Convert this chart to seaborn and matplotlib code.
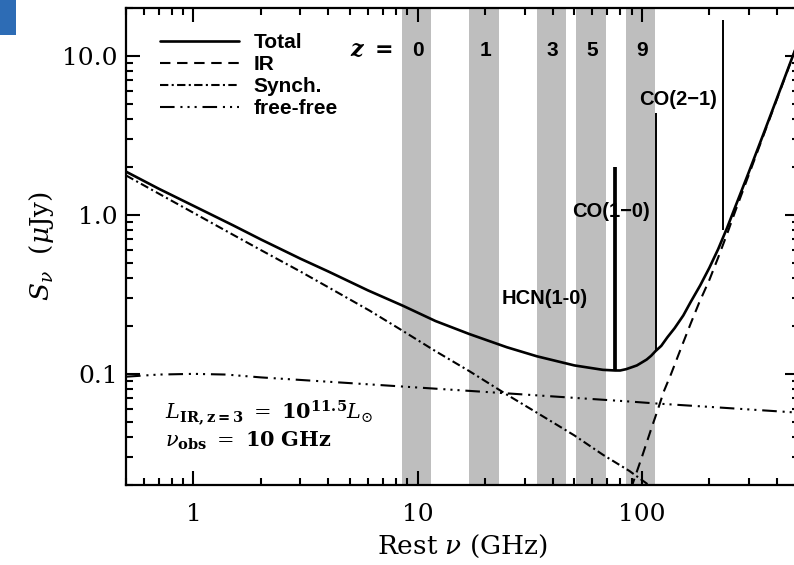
import matplotlib
matplotlib.use("Agg")
import matplotlib.pyplot as plt
import matplotlib.transforms as mtransforms
from matplotlib.patches import Rectangle
from matplotlib.ticker import LogLocator, NullFormatter, FixedLocator, FixedFormatter
from matplotlib.font_manager import FontProperties
import seaborn as sns

# ---------------- data ----------------
total_nu = [0.5, 0.7, 1, 1.5, 2, 3, 4, 6, 8.6, 12, 17, 25, 34, 50, 67, 76, 80, 85, 90,
            95, 100, 105, 110, 115, 122, 130, 140, 153, 165, 182, 200, 219, 240, 260,
            300, 350, 400, 465, 500]
total_S = [1.87, 1.46, 1.14, 0.86, 0.70, 0.53, 0.44, 0.335, 0.268, 0.215, 0.178, 0.147,
           0.129, 0.113, 0.106, 0.105, 0.105, 0.107, 0.110, 0.113, 0.118, 0.123, 0.130,
           0.139, 0.150, 0.170, 0.194, 0.233, 0.283, 0.36, 0.465, 0.61, 0.83, 1.11,
           1.86, 3.28, 5.4, 9.5, 12.5]

ir_nu = [85, 90, 100, 110, 118, 125, 135, 150, 165, 180, 200, 219, 240, 260, 300, 350,
         400, 465, 500]
ir_S = [0.015, 0.0195, 0.030, 0.045, 0.060, 0.077, 0.100, 0.147, 0.207, 0.28, 0.39,
        0.54, 0.76, 1.04, 1.79, 3.21, 5.33, 9.44, 12.4]

synch_nu = [0.5, 0.7, 1, 1.5, 2, 3, 4, 6.1, 8.6, 12, 17, 25, 34, 50, 67, 88, 110]
synch_S = [1.77, 1.36, 1.03, 0.75, 0.60, 0.44, 0.35, 0.25, 0.186, 0.139, 0.104, 0.074,
           0.057, 0.041, 0.031, 0.0245, 0.0195]

ff_nu = [0.5, 0.7, 1, 1.4, 2, 6, 20, 88, 118, 200, 500]
ff_S = [0.096, 0.099, 0.100, 0.099, 0.095, 0.086, 0.077, 0.067, 0.065, 0.062, 0.057]

series_labels = ["Total", "IR", "Synch.", "free-free"]

# observing band 8.5-11.5 GHz, shown at rest frame for these redshifts
z_vals = [0, 1, 3, 5, 9]
band_lo, band_hi, band_mid = 8.5, 11.5, 10.0

# molecular lines
line_names = ["HCN(1-0)", "CO(1\u22120)", "CO(2\u22121)"]
line_nu = [75.8, 115.3, 230.5]
line_bottom = [0.106, 0.139, 0.80]
line_top = [2.0, 4.35, 16.7]
line_lw = [2.7, 1.4, 1.4]
label_pos = [(36.9, 0.30), (72.7, 1.05), (144.8, 5.3)]

x_ticks = [1, 10, 100]
x_ticklabels = ["1", "10", "100"]
y_ticks = [0.1, 1, 10]
y_ticklabels = ["0.1", "1.0", "10.0"]

# ---------------- style ----------------
sns.set_theme(style="ticks")
plt.rcParams["font.family"] = ["DejaVu Serif"]
plt.rcParams["mathtext.fontset"] = "dejavuserif"
plt.rcParams["axes.linewidth"] = 1.5
for k in ["text.color", "axes.labelcolor", "xtick.color", "ytick.color",
          "axes.edgecolor", "xtick.labelcolor", "ytick.labelcolor"]:
    plt.rcParams[k] = "black"

W, H = 794, 565
fig = plt.figure(figsize=(W / 100, H / 100), dpi=100)
ax_l, ax_r, ax_t, ax_b = 126, 798.6, 8, 485
ax = fig.add_axes([ax_l / W, (H - ax_b) / H, (ax_r - ax_l) / W, (ax_b - ax_t) / H])

# bands
for z in z_vals:
    ax.axvspan(band_lo * (1 + z), band_hi * (1 + z), color="#bebebe", lw=0, zorder=0)

# curves
sns.lineplot(x=total_nu, y=total_S, ax=ax, color="black", lw=1.9,
             label=series_labels[0], zorder=3)
sns.lineplot(x=ir_nu, y=ir_S, ax=ax, color="black", lw=1.5,
             linestyle=(0, (5, 3.2)), label=series_labels[1], zorder=3)
sns.lineplot(x=synch_nu, y=synch_S, ax=ax, color="black", lw=1.5,
             linestyle=(0, (4, 1.6, 1, 1.6)), label=series_labels[2], zorder=3)
sns.lineplot(x=ff_nu, y=ff_S, ax=ax, color="black", lw=1.5,
             linestyle=(0, (7, 2.8, 1, 2.4, 1, 2.4, 1, 2.8)), label=series_labels[3], zorder=3)

# molecular line markers
ax.vlines(line_nu, line_bottom, line_top, colors="black", linewidths=line_lw, zorder=4)

ax.set_xscale("log")
ax.set_yscale("log")
ax.set_xlim(0.5, 500)
ax.set_ylim(0.02, 20)

ax.xaxis.set_major_locator(FixedLocator(x_ticks))
ax.xaxis.set_major_formatter(FixedFormatter(x_ticklabels))
ax.yaxis.set_major_locator(FixedLocator(y_ticks))
ax.yaxis.set_major_formatter(FixedFormatter(y_ticklabels))
ax.xaxis.set_minor_locator(LogLocator(base=10, subs=range(2, 10), numticks=20))
ax.yaxis.set_minor_locator(LogLocator(base=10, subs=range(2, 10), numticks=20))
ax.xaxis.set_minor_formatter(NullFormatter())
ax.yaxis.set_minor_formatter(NullFormatter())

ax.tick_params(which="both", direction="in", top=True, right=True, color="black")
ax.tick_params(which="major", length=10, width=1.5, labelsize=18)
ax.tick_params(which="minor", length=5, width=1.5)
ax.tick_params(axis="x", which="major", pad=13)
ax.tick_params(axis="y", which="major", pad=6)
for s in ax.spines.values():
    s.set_linewidth(1.6)
    s.set_color("black")

ax.set_xlabel(r"Rest $\nu$ (GHz)", fontsize=19)
ax.set_ylabel(r"$S_\nu$  ($\mu$Jy)", fontsize=19)
axw = ax_r - ax_l
axh = ax_b - ax_t
ax.xaxis.set_label_coords((462 - ax_l) / axw, (ax_b - 533) / axh)
ax.yaxis.set_label_coords((56 - ax_l) / axw, 0.5)

# legend
leg_font = FontProperties(family="Liberation Sans", weight="bold", size=15)
handles, labels = ax.get_legend_handles_labels()
ax.legend(handles, labels, loc="upper left",
          bbox_to_anchor=((160 - ax_l) / axw, (ax_b - 33) / axh),
          frameon=False, handlelength=3.8, handletextpad=0.7, labelspacing=0.15,
          borderpad=0, borderaxespad=0, prop=leg_font)

# redshift labels
trans = mtransforms.blended_transform_factory(ax.transData, ax.transAxes)
yz = (ax_b - 50) / axh
ax.text(5.34, yz, "z", transform=trans, ha="center", va="center", fontsize=16,
        style="italic", weight="bold", family="DejaVu Serif")
ax.text(7.05, yz, "=", transform=trans, ha="center", va="center", fontsize=16,
        weight="bold", family="DejaVu Sans")
for z in z_vals:
    ax.text(band_mid * (1 + z), yz, str(z), transform=trans, ha="center", va="center",
            fontsize=15, weight="bold", family="Liberation Sans", zorder=5)

# molecular line labels
for name, (px, py) in zip(line_names, label_pos):
    ax.text(px, py, name, ha="center", va="center", fontsize=14.5, weight="bold",
            family="Liberation Sans", zorder=5)

# info text
ax.text((165 - ax_l) / axw, (ax_b - 413) / axh,
        r"$L_{\mathbf{IR,z=3}}\ =\ \mathbf{10}^{\mathbf{11.5}}L_{\odot}$",
        transform=ax.transAxes, ha="left", va="center", fontsize=15)
ax.text((165 - ax_l) / axw, (ax_b - 441) / axh,
        r"$\nu_{\mathbf{obs}}\ =\ \mathbf{10\ GHz}$",
        transform=ax.transAxes, ha="left", va="center", fontsize=15)

# small blue patch at the top-left corner of the screenshot
fig.add_artist(Rectangle((0, 1 - 35 / H), 16 / W, 35 / H, transform=fig.transFigure,
                         color="#2d6cb5", lw=0))

fig.savefig("out.png", dpi=100)
